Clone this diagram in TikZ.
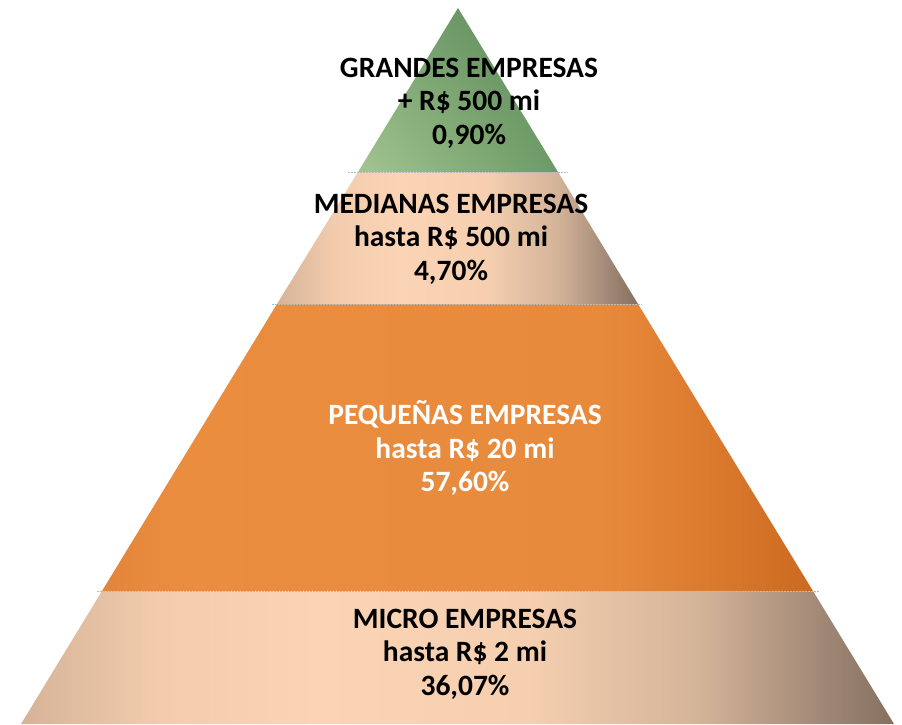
\documentclass[tikz,border=0pt]{standalone}
\usepackage{fontspec}
\setmainfont{Carlito}
\usetikzlibrary{shadings}
\definecolor{pL}{HTML}{D6B398}
\definecolor{pA}{HTML}{F2CCAD}
\definecolor{pM}{HTML}{FAD4B4}
\definecolor{pB}{HTML}{F5CFB0}
\definecolor{pC}{HTML}{D3B398}
\definecolor{pD}{HTML}{A08775}
\definecolor{pR}{HTML}{85705F}
\definecolor{oL}{HTML}{E2853A}
\definecolor{oM}{HTML}{EB8D3F}
\definecolor{oN}{HTML}{E88A3C}
\definecolor{oD}{HTML}{DB792D}
\definecolor{oR}{HTML}{CB6A20}
\definecolor{gUL}{HTML}{7DA673}
\definecolor{gUR}{HTML}{5A8857}
\definecolor{gLL}{HTML}{A3C591}
\definecolor{gLR}{HTML}{6C9A66}
\definecolor{sepcol}{HTML}{A9C2BD}
\pgfdeclarehorizontalshading{peachshade}{100bp}{color(0bp)=(pL); color(25bp)=(pL); color(33bp)=(pA); color(42bp)=(pM); color(54bp)=(pB); color(64bp)=(pC); color(71bp)=(pD); color(75bp)=(pR); color(100bp)=(pR)}
\pgfdeclarehorizontalshading{orangeshade}{100bp}{color(0bp)=(oL); color(25bp)=(oL); color(30bp)=(oM); color(60bp)=(oN); color(68bp)=(oD); color(75bp)=(oR); color(100bp)=(oR)}
\tikzset{
  lbl/.style={font=\fontsize{29.5}{33.5}\selectfont\bfseries, align=center, inner sep=0pt},
  sep/.style={draw=sepcol, line width=1pt, dash pattern=on 1.5pt off 1.5pt},
}
\begin{document}
\begin{tikzpicture}[x=1pt,y=-1pt]
\useasboundingbox (0,0) rectangle (902,724);
% vertices
\coordinate (A) at (458,8);
\coordinate (L1) at (358,172); \coordinate (R1) at (558,172);
\coordinate (L2) at (277,304); \coordinate (R2) at (638,304);
\coordinate (L3) at (102,591); \coordinate (R3) at (813,591);
\coordinate (L4) at (21,724);  \coordinate (R4) at (894,724);
% layers
\shade[upper left=gUL, upper right=gUR, lower left=gLL, lower right=gLR] (A) -- (R1) -- (L1) -- cycle;
\shade[shading=peachshade] (L1) -- (R1) -- (R2) -- (L2) -- cycle;
\shade[shading=orangeshade] (L2) -- (R2) -- (R3) -- (L3) -- cycle;
\shade[shading=peachshade] (L3) -- (R3) -- (R4) -- (L4) -- cycle;
% separators
\coordinate (s1a) at (348,172); \coordinate (s1b) at (568,172);
\coordinate (s2a) at (272,304); \coordinate (s2b) at (642,304);
\coordinate (s3a) at (97,591);  \coordinate (s3b) at (820,591);
\draw[sep] (s1a) -- (s1b);
\draw[sep] (s2a) -- (s2b);
\draw[sep] (s3a) -- (s3b);
% labels
\node[lbl] (grandes) at (469,103) {GRANDES EMPRESAS\\+ R\$ 500 mi\\0,90\%};
\node[lbl] (medianas) at (451,239) {MEDIANAS EMPRESAS\\hasta R\$ 500 mi\\4,70\%};
\node[lbl, text=white] (pequenas) at (465,448) {PEQUEÑAS EMPRESAS\\hasta R\$ 20 mi\\57,60\%};
\node[lbl] (micro) at (465,654) {MICRO EMPRESAS\\hasta R\$ 2 mi\\36,07\%};
\end{tikzpicture}
\end{document}
